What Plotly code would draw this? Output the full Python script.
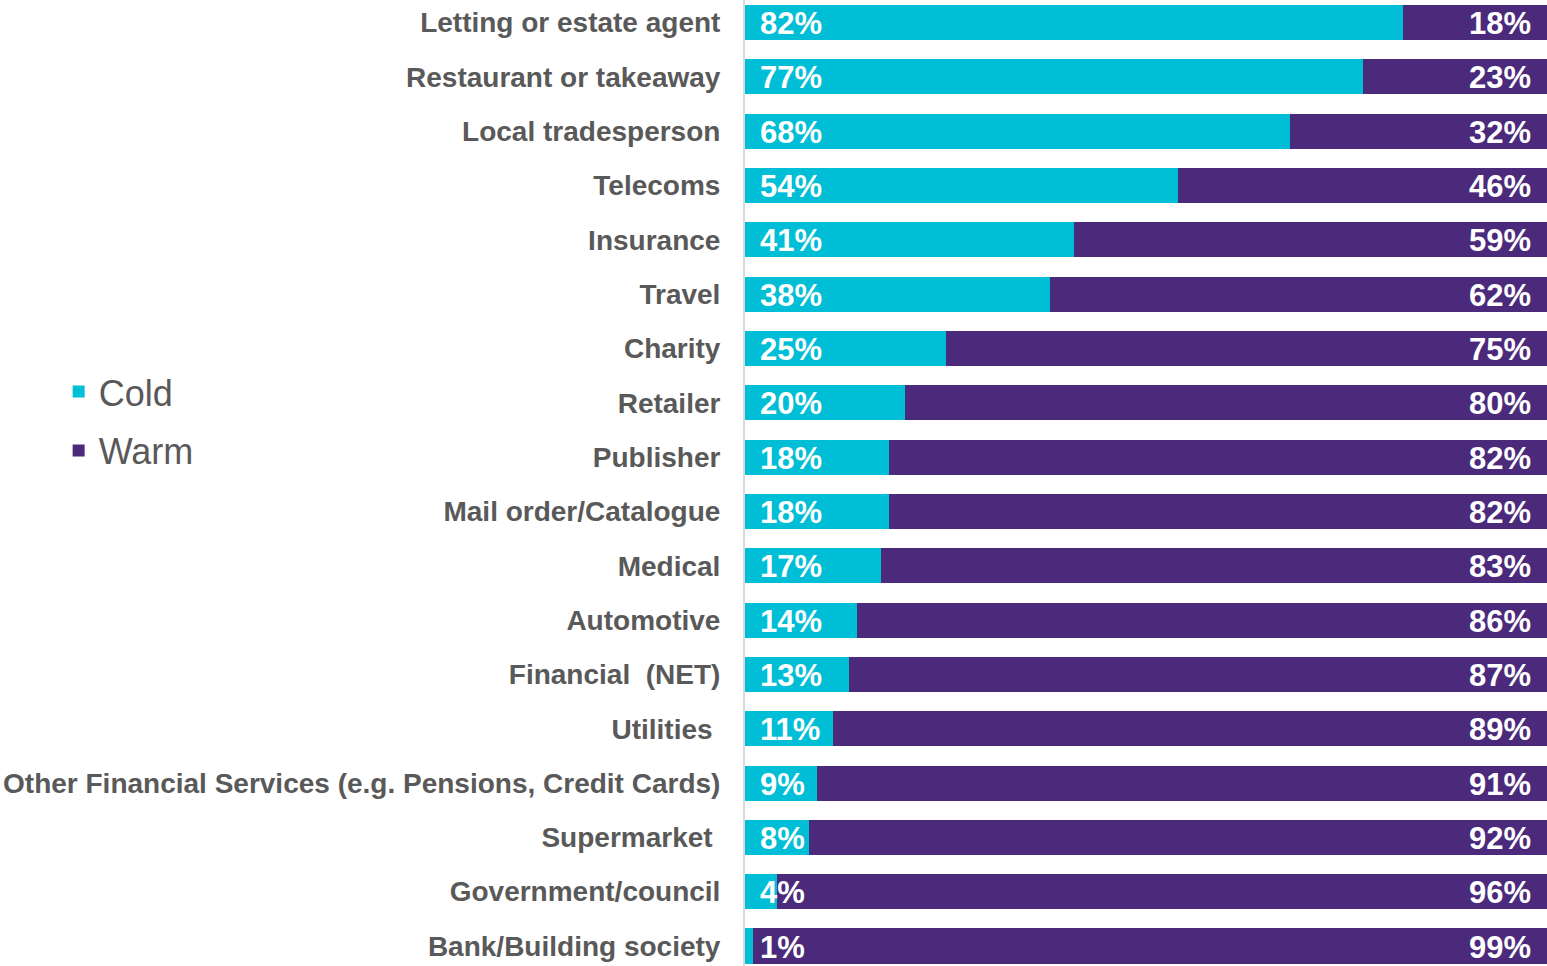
import plotly.graph_objects as go

# Survey categories, top to bottom
categories = [
    "Letting or estate agent",
    "Restaurant or takeaway",
    "Local tradesperson",
    "Telecoms",
    "Insurance",
    "Travel",
    "Charity",
    "Retailer",
    "Publisher",
    "Mail order/Catalogue",
    "Medical",
    "Automotive",
    "Financial \u00a0(NET)",
    "Utilities\u00a0",
    "Other Financial Services (e.g. Pensions, Credit Cards)",
    "Supermarket\u00a0",
    "Government/council",
    "Bank/Building society",
]

# Share of contacts (%)
cold = [82, 77, 68, 54, 41, 38, 25, 20, 18, 18, 17, 14, 13, 11, 9, 8, 4, 1]
warm = [18, 23, 32, 46, 59, 62, 75, 80, 82, 82, 83, 86, 87, 89, 91, 92, 96, 99]

COLD_COLOR = "#00BED5"
WARM_COLOR = "#4B2A7B"
GREY = "#595959"
FONT = "Liberation Sans, Arial, sans-serif"

fig = go.Figure()
fig.add_trace(go.Bar(
    name="Cold", y=categories, x=cold, orientation="h",
    marker=dict(color=COLD_COLOR, line=dict(width=0)),
    legendgroup="cold", hoverinfo="skip",
))
fig.add_trace(go.Bar(
    name="Warm", y=categories, x=warm, orientation="h",
    marker=dict(color=WARM_COLOR, line=dict(width=0)),
    legendgroup="warm", hoverinfo="skip",
))

annotations = []
for cat, c, w in zip(categories, cold, warm):
    annotations.append(dict(
        x=0, y=cat, xref="x", yref="y", text=f"{c}%", showarrow=False,
        xanchor="left", xshift=13, yshift=-1,
        font=dict(family=FONT, size=31, color="white", weight="bold"),
    ))
    annotations.append(dict(
        x=c + w, y=cat, xref="x", yref="y", text=f"{w}%", showarrow=False,
        xanchor="right", xshift=-14, yshift=-1,
        font=dict(family=FONT, size=31, color="white", weight="bold"),
    ))

fig.update_layout(
    width=1547, height=966,
    margin=dict(l=745, r=0, t=0, b=0),
    barmode="stack",
    bargap=0.355,
    paper_bgcolor="white",
    plot_bgcolor="white",
    font=dict(family=FONT, color=GREY),
    annotations=annotations,
    legend=dict(
        x=-0.8558, y=0.564, xanchor="left", yanchor="middle",
        font=dict(family=FONT, size=36, color=GREY),
        tracegroupgap=9, bgcolor="rgba(0,0,0,0)",
    ),
    xaxis=dict(
        range=[0, 100], showgrid=False, zeroline=False,
        showticklabels=False, fixedrange=True,
    ),
    yaxis=dict(
        categoryorder="array", categoryarray=categories,
        range=[17.368, -0.414],
        showgrid=False, zeroline=False,
        showline=True, linecolor="#D9D9D9", linewidth=2,
        ticks="", ticklabelstandoff=17,
        tickfont=dict(family=FONT, size=28, color=GREY, weight="bold"),
    ),
)

fig.write_html("out.html")
